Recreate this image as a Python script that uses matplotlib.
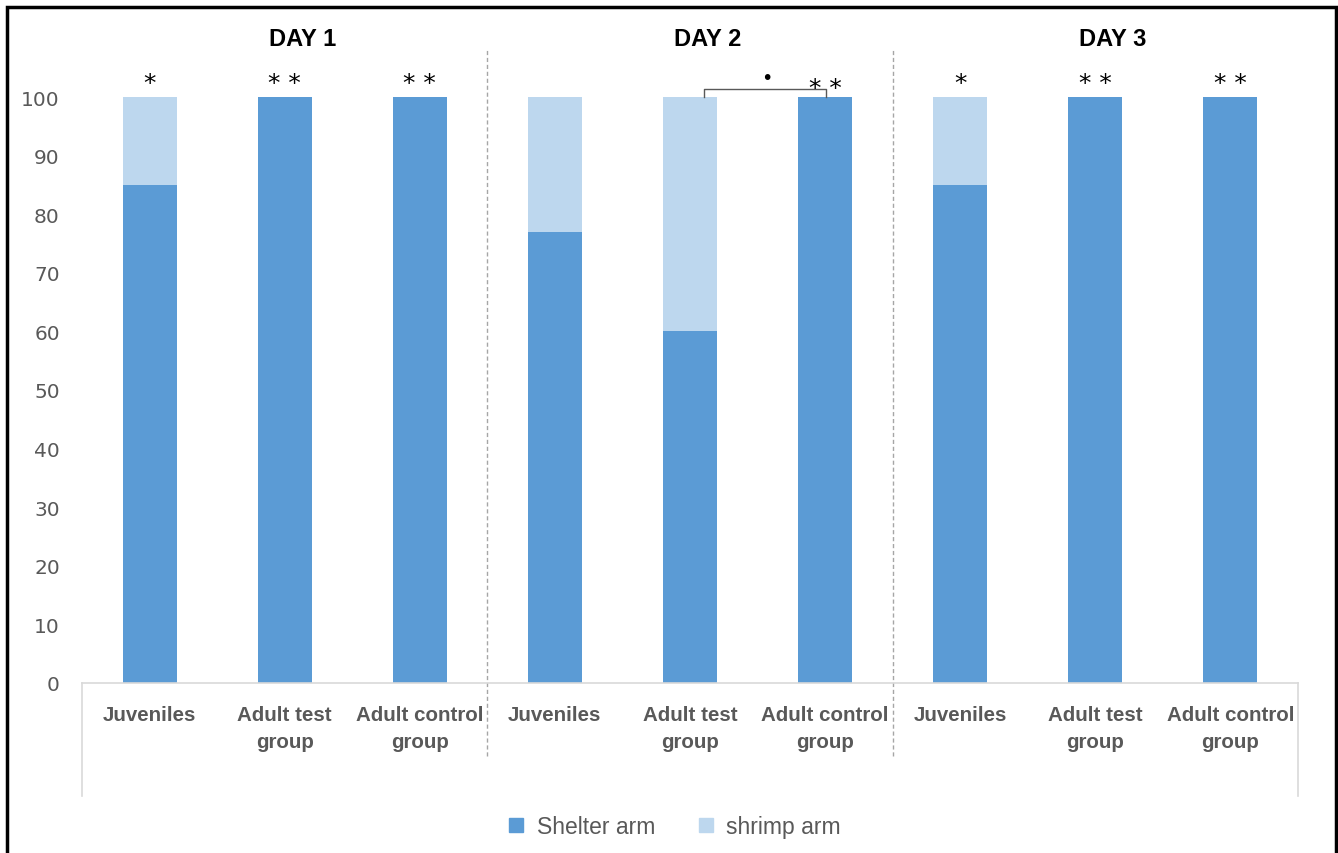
import numpy as np
import matplotlib
matplotlib.use("Agg")
import matplotlib.pyplot as plt
from matplotlib.patches import Rectangle
from matplotlib.lines import Line2D

# data
days = ["DAY 1", "DAY 2", "DAY 3"]
groups = ["Juveniles", "Adult test\ngroup", "Adult control\ngroup"]
shelter = [85, 100, 100, 77, 60, 100, 85, 100, 100]
shrimp = [15, 0, 0, 23, 40, 0, 15, 0, 0]
stars = ["*", "**", "**", "", "", "**", "*", "**", "**"]

dark = "#5B9BD5"
light = "#BDD7EE"
grey = "#595959"

plt.rcParams['font.family'] = ['Liberation Sans', 'DejaVu Sans']

W, H = 1338, 854
fig = plt.figure(figsize=(W / 100, H / 100), dpi=100)
ax = fig.add_axes([82 / W, 1 - 684 / H, (1298 - 82) / W, (684 - 98) / H])

x = np.arange(len(shelter))
ax.bar(x, shelter, width=0.4, color=dark, label="Shelter arm")
ax.bar(x, shrimp, width=0.4, bottom=shelter, color=light, label="shrimp arm")

ax.set_xlim(-0.5, len(shelter) - 0.5)
ax.set_ylim(0, 100)
ax.set_yticks(range(0, 101, 10))
ax.tick_params(axis='y', length=0, pad=16, labelsize=14.5, labelcolor=grey)
ax.set_yticklabels([str(v) for v in range(0, 101, 10)], family=['DejaVu Sans'])

ax.set_xticks(x)
ax.set_xticklabels(groups * 3, fontsize=14.8, fontweight='bold', color=grey,
                   linespacing=1.55)
ax.tick_params(axis='x', length=0, pad=16)

for s in ["top", "left", "right"]:
    ax.spines[s].set_visible(False)
ax.spines["bottom"].set_color("#D9D9D9")
ax.spines["bottom"].set_linewidth(1.2)

# frame lines below the axis
for xv in (-0.5, len(shelter) - 0.5):
    ax.plot([xv, xv], [0, -19.3], color="#D9D9D9", lw=1.2, clip_on=False)

# day dividers
for xv in (2.5, 5.5):
    ax.plot([xv, xv], [-12.5, 108.2], color="#A6A6A6", lw=1, ls=(0, (3, 2)),
            clip_on=False)

# day titles
for i, d in enumerate(days):
    ax.text(3 * i + 1 + 0.13, 109.9, d, ha='center', va='center', fontsize=17,
            fontweight='bold', color='black')

# significance stars
for i, s in enumerate(stars):
    if s:
        yy = 101.6 if i == 5 else 102.4
        ax.text(i, yy, " ".join(s), ha='center', va='center', fontsize=18,
                color='black', family=['DejaVu Sans'])

# bracket between adult test and control on day 2
ax.plot([4.1, 4.1, 5.01, 5.01], [100, 101.4, 101.4, 100], color=grey, lw=1,
        clip_on=False)
ax.text(4.57, 103.4, "•", ha='center', va='center', fontsize=14, color='black',
        family=['DejaVu Sans'])

# legend
handles = [Line2D([], [], marker='s', ls='', color=dark, markersize=10),
           Line2D([], [], marker='s', ls='', color=light, markersize=10)]
fig.legend(handles, ["Shelter arm", "shrimp arm"], loc='center',
           bbox_to_anchor=(667 / W, 1 - 828 / H), ncol=2, frameon=False,
           fontsize=16.5, labelcolor=grey, handletextpad=-0.1,
           columnspacing=1.2)

# outer border
fig.patches.append(Rectangle((7 / W, -0.01), (1336 - 7) / W, 1 - 8 / H + 0.01,
                             transform=fig.transFigure, fill=False,
                             edgecolor='black', lw=2.5))

fig.savefig("out.png", dpi=100)
